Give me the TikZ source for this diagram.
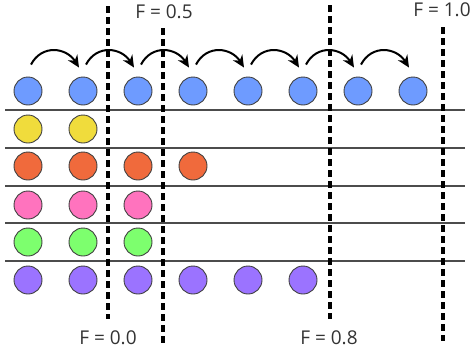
\documentclass[tikz,border=0pt]{standalone}
\usepackage{fontspec}
\setmainfont{Open Sans}
\usetikzlibrary{arrows.meta}
\definecolor{cblue}{HTML}{6E9BFF}
\definecolor{cyellow}{HTML}{F0DC3C}
\definecolor{corange}{HTML}{F06A3C}
\definecolor{cpink}{HTML}{FF73BE}
\definecolor{cgreen}{HTML}{7DFF6E}
\definecolor{cpurple}{HTML}{9B73FF}
\definecolor{lab}{HTML}{333333}
\tikzset{
  ball/.style={circle, draw=black!75, line width=0.9pt, minimum size=28pt, inner sep=0pt},
  rowline/.style={draw=black!70, line width=1.1pt},
  fline/.style={draw=black, line width=3.2pt, dash pattern=on 7pt off 4pt},
  flabel/.style={font=\fontsize{19}{22}\selectfont, text=lab, inner sep=0pt},
  hop/.style={draw=black, line width=2pt, -{Stealth[length=12pt,width=11pt]}}
}
\begin{document}
\begin{tikzpicture}[x=1pt,y=-1pt]
\useasboundingbox (0,0) rectangle (476,351);
% rows of balls
\foreach \i/\x in {1/28,2/83,3/138,4/193,5/248,6/303,7/358,8/413}
  \node[ball, fill=cblue] (b\i) at (\x,91) {};
\foreach \i/\x in {1/28,2/83}
  \node[ball, fill=cyellow] (y\i) at (\x,129) {};
\foreach \i/\x in {1/28,2/83,3/138,4/193}
  \node[ball, fill=corange] (o\i) at (\x,166) {};
\foreach \i/\x in {1/28,2/83,3/138}
  \node[ball, fill=cpink] (p\i) at (\x,205) {};
\foreach \i/\x in {1/28,2/83,3/138}
  \node[ball, fill=cgreen] (g\i) at (\x,242) {};
\foreach \i/\x in {1/28,2/83,3/138,4/193,5/248,6/303}
  \node[ball, fill=cpurple] (v\i) at (\x,280) {};
% separators
\foreach \y [count=\k] in {110,148,186,223,261}{
  \coordinate (hl\k) at (5,\y);
  \coordinate (hr\k) at (465,\y);
  \draw[rowline] (hl\k) -- (hr\k);
}
% dashed F lines
\coordinate (fa1) at (108,6);   \coordinate (fa2) at (108,319);
\coordinate (fb1) at (163,28);  \coordinate (fb2) at (163,343);
\coordinate (fc1) at (330,5);   \coordinate (fc2) at (330,319);
\coordinate (fd1) at (443,27);  \coordinate (fd2) at (443,341);
\draw[fline] (fa1) -- (fa2);
\draw[fline] (fb1) -- (fb2);
\draw[fline] (fc1) -- (fc2);
\draw[fline] (fd1) -- (fd2);
% labels
\node[flabel] (l05) at (164,12) {F = 0.5};
\node[flabel] (l10) at (442,10) {F = 1.0};
\node[flabel] (l00) at (108,338) {F = 0.0};
\node[flabel] (l08) at (329,338) {F = 0.8};
% hops
\foreach \a/\b in {1/2,2/3,3/4,4/5,5/6,6/7,7/8}
  \draw[hop] ([xshift=3pt,yshift=12pt]b\a.north) to[out=62,in=122,looseness=1.25] ([xshift=-4pt,yshift=9pt]b\b.north);
\end{tikzpicture}
\end{document}
